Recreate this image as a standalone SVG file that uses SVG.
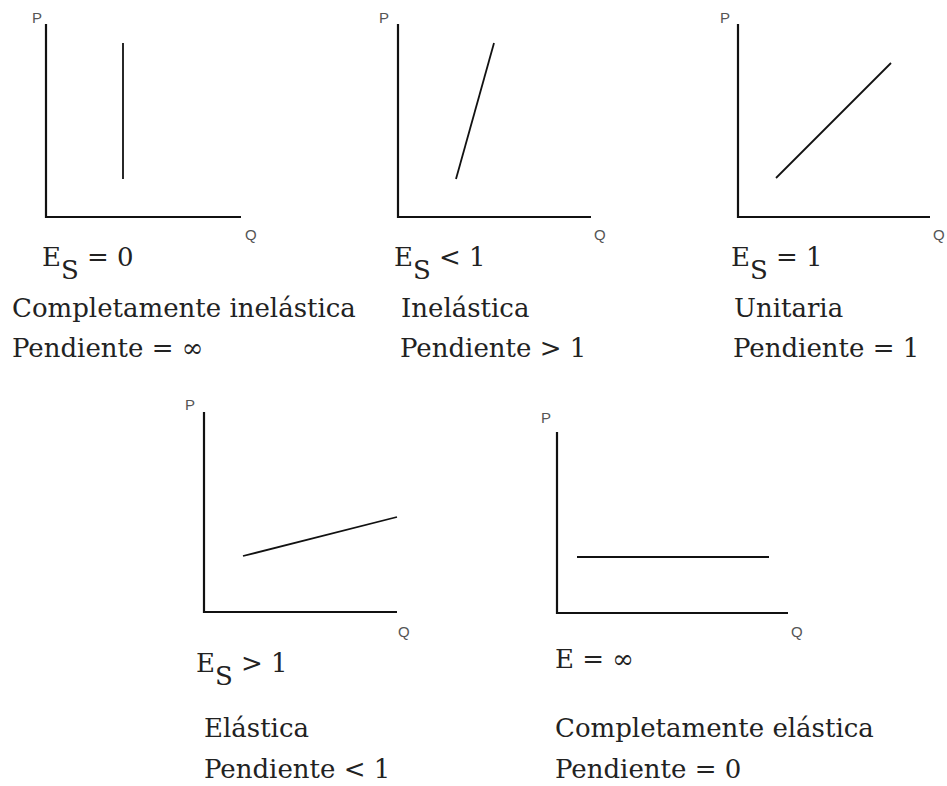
<svg xmlns="http://www.w3.org/2000/svg" width="947" height="786" viewBox="0 0 947 786">
<style>
.ax{stroke:#111;stroke-width:2.2;fill:none}
.cv{stroke:#111;stroke-width:1.8;fill:none}
.lab{font-family:"Liberation Sans","DejaVu Sans",sans-serif;font-size:15px;fill:#555}
.t{font-family:"DejaVu Serif","Liberation Serif",serif;font-size:26px;fill:#222}
</style>
<rect width="947" height="786" fill="#fff"/>
<g id="g1">
<text class="lab" x="32" y="23">P</text>
<path class="ax" d="M46,24V217H241"/>
<text class="lab" x="245" y="240">Q</text>
<text class="t" x="42" y="266">E<tspan dy="13">S</tspan><tspan dy="-13"> = 0</tspan></text>
<text class="t" x="12" y="317">Completamente inelástica</text>
<text class="t" x="12" y="357">Pendiente = ∞</text>
</g>
<g id="g2">
<text class="lab" x="379" y="23">P</text>
<path class="ax" d="M398,24V217H591"/>
<text class="lab" x="594" y="240">Q</text>
<text class="t" x="394" y="266">E<tspan dy="13">S</tspan><tspan dy="-13"> &lt; 1</tspan></text>
<text class="t" x="401" y="317">Inelástica</text>
<text class="t" x="400" y="357">Pendiente &gt; 1</text>
</g>
<g id="g3">
<text class="lab" x="720" y="23">P</text>
<path class="ax" d="M738,24V217H930"/>
<text class="lab" x="933" y="240">Q</text>
<text class="t" x="731" y="266">E<tspan dy="13">S</tspan><tspan dy="-13"> = 1</tspan></text>
<text class="t" x="734" y="317">Unitaria</text>
<text class="t" x="733" y="357">Pendiente = 1</text>
</g>
<g id="g4">
<text class="lab" x="185" y="410">P</text>
<path class="ax" d="M204,412V612H397"/>
<text class="lab" x="398" y="637">Q</text>
<text class="t" x="196" y="672">E<tspan dy="13">S</tspan><tspan dy="-13"> &gt; 1</tspan></text>
<text class="t" x="204" y="737">Elástica</text>
<text class="t" x="204" y="778">Pendiente &lt; 1</text>
</g>
<g id="g5">
<text class="lab" x="541" y="423">P</text>
<path class="ax" d="M557,432V613H788"/>
<text class="lab" x="791" y="637">Q</text>
<text class="t" x="555" y="668">E = ∞</text>
<text class="t" x="555" y="737">Completamente elástica</text>
<text class="t" x="555" y="778">Pendiente = 0</text>
</g>
<g id="connectors">
<line class="cv" x1="123" y1="43" x2="123" y2="179"/>
<line class="cv" x1="456" y1="179" x2="494" y2="43"/>
<line class="cv" x1="776" y1="178" x2="891" y2="63"/>
<line class="cv" x1="243" y1="556" x2="397" y2="517"/>
<line class="cv" x1="577" y1="557" x2="769" y2="557"/>
</g>
</svg>
